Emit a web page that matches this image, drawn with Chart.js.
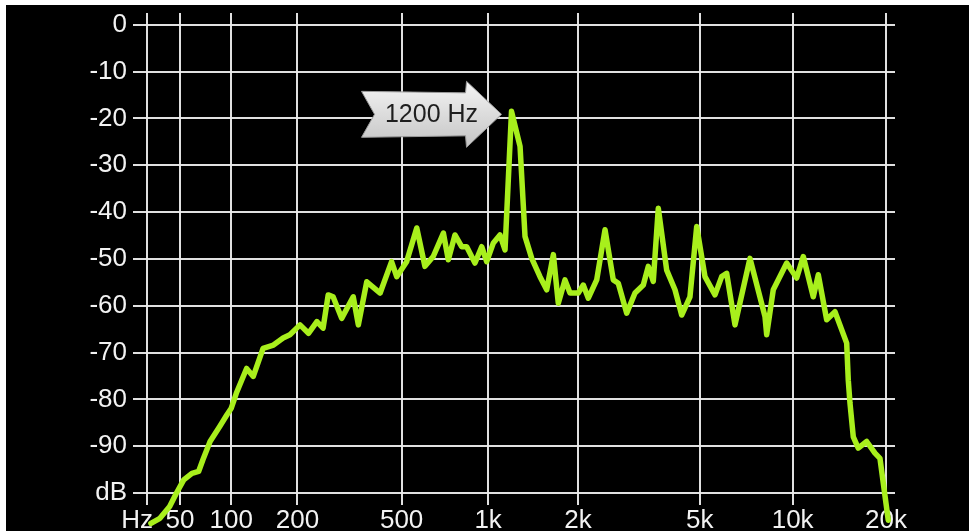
<!DOCTYPE html>
<html>
<head>
<meta charset="utf-8">
<script src="https://cdn.jsdelivr.net/npm/chart.js@4.4.1/dist/chart.umd.min.js"></script>
<style>
  html, body { margin: 0; padding: 0; background: #fff; }
  #wrap { position: absolute; left: 6px; top: 5px; width: 963px; height: 526px; background: #000; }
</style>
</head>
<body>
<div id="wrap"><canvas id="spectrumChart"></canvas></div>
<script>
// spectrum: frequency in Hz, level in dB
let freqs = [29, 35, 42, 47, 53, 60, 66, 70, 77, 87,
    95, 100, 106, 119, 128, 142, 158, 174, 186, 205,
    222, 240, 254, 266, 278, 300, 332, 347, 373, 418,
    460, 480, 521, 566, 605, 647, 702, 730, 770, 812,
    845, 902, 951, 989, 1042, 1097, 1141, 1200, 1282, 1332,
    1403, 1495, 1574, 1656, 1720, 1810, 1881, 2003, 2081, 2162,
    2304, 2454, 2612, 2713, 2891, 3077, 3276, 3401, 3531, 3667,
    3905, 4156, 4370, 4650, 4890, 5202, 5606, 5894, 6118, 6509,
    7279, 8140, 8244, 8658, 9567, 10305, 10823, 11657, 12100, 12878,
    13697, 14941, 15118, 15310, 15690, 16281, 17329, 18430, 19125, 20338];
let levels = [-106.5, -105.4, -102.9, -100.1, -97.2, -95.8, -95.4, -92.9, -89.0, -85.8,
    -83.3, -81.9, -78.7, -73.4, -75.1, -69.1, -68.4, -66.9, -66.2, -64.1,
    -65.9, -63.4, -64.8, -57.7, -58.1, -62.7, -58.1, -64.1, -54.9, -57.3,
    -50.6, -53.8, -50.6, -43.4, -51.6, -49.5, -44.5, -50.2, -44.9, -47.4,
    -47.4, -50.9, -47.4, -50.6, -46.6, -44.9, -48.1, -18.5, -26.0, -45.2,
    -49.9, -53.8, -56.6, -49.1, -59.5, -54.5, -57.3, -57.3, -55.6, -58.4,
    -54.5, -43.8, -54.5, -55.2, -61.6, -57.3, -55.6, -51.6, -54.8, -39.2,
    -52.4, -56.6, -62.0, -58.1, -43.1, -53.8, -57.7, -53.8, -53.1, -64.1,
    -49.9, -62.3, -66.2, -56.6, -50.9, -54.1, -49.5, -58.1, -53.4, -63.0,
    -61.3, -68.0, -75.9, -80.8, -88.0, -90.4, -89.0, -91.5, -92.6, -105.8];
let xTickFreqs = [26.5, 50, 100, 200, 500, 1000, 2000, 5000, 10000, 20000];
let xTickLabels = ['Hz  \u2009', '50', '100', '200', '500', '1k', '2k', '5k', '10k', '20k'];
let yTicks = [0, -10, -20, -30, -40, -50, -60, -70, -80, -90, -100];
let yTickLabels = ['0', '-10', '-20', '-30', '-40', '-50', '-60', '-70', '-80', '-90', 'dB'];
let peakLabel = '1200 Hz';

// the analyser axis is log(f + 58.5 Hz): octaves get narrower below ~500 Hz
const OFFSET = 58.5;
function warp(f) {
    return Math.log(f + OFFSET);
}

const gridColor = 'rgba(236, 236, 236, 0.95)';
const textColor = '#f2f2f2';
const font = {family: "'Liberation Sans', Arial, Helvetica, sans-serif", size: 26};

const peakArrow = {
    id: 'peakArrow',
    afterDatasetsDraw(chart) {
        let i = levels.indexOf(Math.max(...levels));
        let p = chart.getDatasetMeta(0).data[i];
        let tx = p.x - 10, ty = p.y + 3;
        let ctx = chart.ctx;
        ctx.save();
        ctx.beginPath();
        ctx.moveTo(tx, ty);
        ctx.lineTo(tx - 35, ty - 33);
        ctx.lineTo(tx - 36, ty - 21.5);
        ctx.lineTo(tx - 140, ty - 23);
        ctx.lineTo(tx - 127, ty);
        ctx.lineTo(tx - 140, ty + 23);
        ctx.lineTo(tx - 36, ty + 21.5);
        ctx.lineTo(tx - 35, ty + 33);
        ctx.closePath();
        let g = ctx.createLinearGradient(0, ty - 33, 0, ty + 33);
        g.addColorStop(0, '#f4f4f4');
        g.addColorStop(1, '#c4c4c4');
        ctx.fillStyle = g;
        ctx.fill();
        ctx.lineWidth = 1;
        ctx.strokeStyle = '#9a9a9a';
        ctx.stroke();
        ctx.fillStyle = '#1e1e1e';
        ctx.font = "25px 'Liberation Sans', Arial, sans-serif";
        ctx.textAlign = 'center';
        ctx.textBaseline = 'middle';
        ctx.fillText(peakLabel, tx - 70, ty + 1);
        ctx.restore();
    }
};

let ctx = document.getElementById('spectrumChart');
let points = [];
for (let i = 0; i < freqs.length; i++) {
    points.push({x: warp(freqs[i]), y: levels[i]});
}

let myChart = new Chart(ctx, {
    type: 'line',
    data: {
        datasets: [{
            data: points,
            borderColor: '#a8ef1c',
            borderWidth: 5.5,
            pointRadius: 0,
            tension: 0,
            borderJoinStyle: 'round',
            borderCapStyle: 'round',
            clip: false
        }]
    },
    options: {
        responsive: true,
        maintainAspectRatio: false,
        animation: false,
        layout: {padding: {top: 8, right: 74, left: 0, bottom: 0}},
        plugins: {legend: {display: false}, tooltip: {enabled: false}},
        scales: {
            x: {
                type: 'linear',
                min: warp(xTickFreqs[0]),
                max: warp(21380),
                afterBuildTicks: function (scale) {
                    scale.ticks = xTickFreqs.map(f => ({value: warp(f)}));
                },
                afterFit: function (scale) {
                    scale.height = 38;
                    scale.paddingLeft = 0;
                    scale.paddingRight = 0;
                },
                grid: {color: gridColor, lineWidth: 2, tickLength: 12},
                border: {display: false},
                ticks: {
                    color: textColor,
                    font: font,
                    padding: 0,
                    autoSkip: false,
                    maxRotation: 0,
                    callback: function (value, index) {
                        return xTickLabels[index];
                    }
                }
            },
            y: {
                type: 'linear',
                min: -100,
                max: 2.5,
                afterBuildTicks: function (scale) {
                    scale.ticks = yTicks.slice().reverse().map(v => ({value: v}));
                },
                afterFit: function (scale) {
                    scale.width = 141;
                    scale.paddingTop = 0;
                    scale.paddingBottom = 0;
                },
                grid: {color: gridColor, lineWidth: 2, tickLength: 14},
                border: {display: false},
                ticks: {
                    color: textColor,
                    font: font,
                    padding: 6,
                    autoSkip: false,
                    callback: function (value) {
                        return yTickLabels[yTicks.indexOf(value)];
                    }
                }
            }
        }
    },
    plugins: [peakArrow]
});
</script>
</body>
</html>
